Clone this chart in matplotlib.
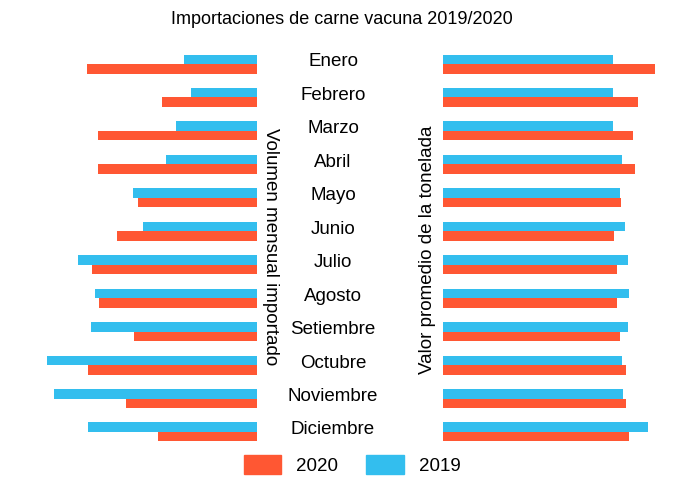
import matplotlib
matplotlib.use("Agg")
import matplotlib.pyplot as plt
from matplotlib.patches import Patch

plt.rcParams['font.family'] = ['Liberation Sans', 'DejaVu Sans']

months = ["Enero","Febrero","Marzo","Abril","Mayo","Junio","Julio","Agosto",
          "Setiembre","Octubre","Noviembre","Diciembre"]
vol_2019 = [73,66,81,91,124,114,179,162,166,210,203,169]
vol_2020 = [170,95,159,159,119,140,165,158,123,169,131,99]
val_2019 = [170,170,170,179,177,182,185,186,185,179,180,205]
val_2020 = [212,195,190,192,178,171,174,174,177,183,183,186]

RED = "#FF5733"
BLUE = "#33BEEE"
W, H = 684, 482
fig = plt.figure(figsize=(W/100, H/100), dpi=100)

def ax_px(x0, x1, y0, y1):
    return fig.add_axes([x0/W, 1-y1/H, (x1-x0)/W, (y1-y0)/H])

centers = [64 + 33.45*i for i in range(12)]
bh = 9.5

axL = ax_px(30, 257, 35, 460)
axR = ax_px(443, 680, 35, 460)
for ax, a, b in [(axL, vol_2019, vol_2020), (axR, val_2019, val_2020)]:
    ax.barh([c - bh/2 for c in centers], a, height=bh, color=BLUE)
    ax.barh([c + bh/2 for c in centers], b, height=bh, color=RED)
    ax.set_ylim(460, 35)
    ax.set_xticks([]); ax.set_yticks([])
    for s in ax.spines.values():
        s.set_visible(False)
axL.set_xlim(227, 0)
axR.set_xlim(0, 237)

for m, c in zip(months, centers):
    fig.text(333/W, 1-(c-2)/H, m, ha="center", va="center", fontsize=13.5)

fig.text(271/W, 1-247/H, "Volumen mensual importado", rotation=-90,
         ha="center", va="center", fontsize=13.5)
fig.text(428/W, 1-250/H, "Valor promedio de la tonelada", rotation=90,
         ha="center", va="center", fontsize=13.5)
fig.text(0.5, 1-19/H, "Importaciones de carne vacuna 2019/2020",
         ha="center", va="center", fontsize=13)

fig.legend(handles=[Patch(color=RED, label="2020"), Patch(color=BLUE, label="2019")],
           loc="center", bbox_to_anchor=(352/W, 1-465/H), ncol=2, frameon=False,
           fontsize=13.5, handlelength=2.0, handleheight=1.2, columnspacing=1.5)

fig.savefig("out.png", dpi=100)
